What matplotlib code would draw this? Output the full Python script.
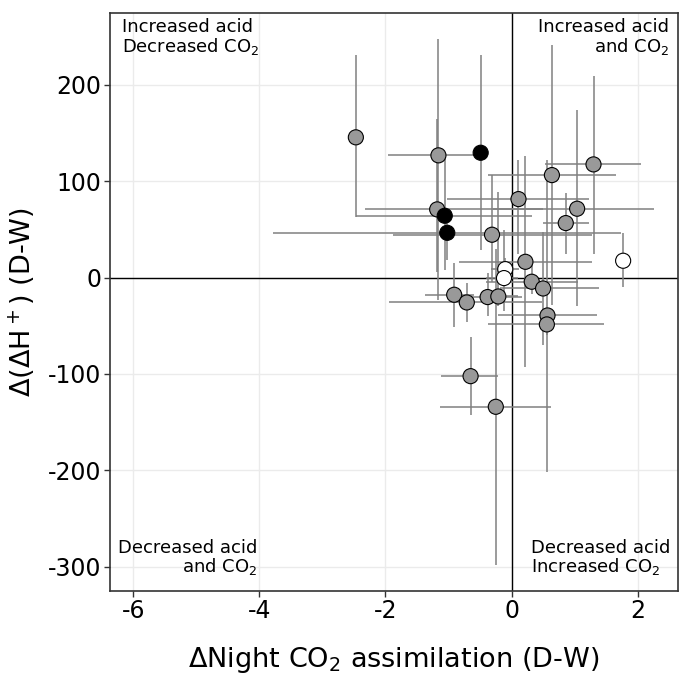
import numpy as np
import matplotlib
matplotlib.use('Agg')
import matplotlib.pyplot as plt

plt.rcParams['font.family'] = ['DejaVu Sans']
plt.rcParams['mathtext.default'] = 'regular'
plt.rcParams['axes.unicode_minus'] = False

# points: x, y, error bar limits, fill
x = [-2.47, -1.16, -0.49, 1.30, 0.64, 0.11, 1.04, -1.18, -1.06, -1.02, 0.86, -0.31, 0.22,
     1.77, -0.10, -0.12, 0.32, 0.50, -0.91, -0.71, -0.38, -0.21, 0.57, 0.56, -0.65, -0.25]
y = [145.6, 126.9, 129.6, 117.5, 106.4, 81.5, 71.5, 70.8, 64.2, 46.5, 56.6, 44.5, 16.4,
     17.5, 8.8, -0.5, -4.3, -11.3, -17.8, -25.8, -20.2, -19.6, -39.3, -48.6, -102.3, -134.1]
xlo = [-2.55, -1.96, -0.49, 0.53, -0.38, -1.02, -0.30, -2.33, -2.46, -3.78, 0.50, -1.88, -0.84,
       1.77, -0.33, -0.40, -0.41, -0.19, -1.38, -1.95, -0.95, -0.50, -0.21, -0.38, -1.12, -1.14]
xhi = [-2.40, -0.55, -0.49, 2.05, 1.66, 1.23, 2.26, 0.50, 0.32, 1.73, 1.23, 1.27, 1.28,
       1.77, 0.12, 0.10, 1.06, 1.39, -0.60, 0.49, 0.17, 0.10, 1.35, 1.47, -0.21, 0.62]
ylo = [62.5, -23.0, 28.5, 25.0, -28.5, 25.0, -29.6, 6.0, 7.8, 18.0, 25.0, -5.0, -93.3,
       -10.2, 0.0, -35.0, -17.0, -70.0, -51.0, -46.5, -40.0, -30.0, -201.6, -60.0, -142.8, -298.5]
yhi = [231.0, 247.7, 230.7, 209.6, 241.8, 122.0, 173.6, 164.6, 127.0, 70.0, 88.0, 106.4, 126.0,
       45.9, 20.0, 49.0, 13.0, 47.6, 15.4, -6.0, 5.0, 89.0, 122.0, -35.0, -62.0, 30.0]
group = ['g', 'g', 'b', 'g', 'g', 'g', 'g', 'g', 'b', 'b', 'g', 'g', 'g',
         'w', 'w', 'w', 'g', 'g', 'g', 'g', 'g', 'g', 'g', 'g', 'g', 'g']
fills = {'g': '#999999', 'b': 'black', 'w': 'white'}

x = np.array(x)
y = np.array(y)
xerr = [x - np.array(xlo), np.array(xhi) - x]
yerr = [y - np.array(ylo), np.array(yhi) - y]

fig = plt.figure(figsize=(6.79, 6.81), dpi=100)
ax = fig.add_axes([0.162, 0.1326, 0.8365, 0.8488])

ax.set_xlim(-6.37, 2.64)
ax.set_ylim(-325, 275)
ax.set_xticks([-6, -4, -2, 0, 2])
ax.set_yticks([-300, -200, -100, 0, 100, 200])
ax.grid(True, color='#ebebeb', lw=1.0)
ax.set_axisbelow(True)

ax.axhline(0, color='black', lw=1.0, zorder=1.5)
ax.axvline(0, color='black', lw=1.0, zorder=1.5)

ax.errorbar(x, y, xerr=xerr, yerr=yerr, fmt='none', ecolor='#808080', elinewidth=1.1,
            capsize=0, zorder=2)
ax.scatter(x, y, s=118, c=[fills[g] for g in group], edgecolors='black', linewidths=0.8,
           zorder=3)

for s in ax.spines.values():
    s.set_color('#333333')
    s.set_linewidth(1.2)
ax.tick_params(colors='#333333', labelcolor='black', labelsize=17, length=4, width=1.0,
               pad=2)

fs = 13
ax.text(-6.18, 269, 'Increased acid\nDecreased CO$_2$', ha='left', va='top', fontsize=fs,
        linespacing=0.95)
ax.text(2.50, 269, 'Increased acid\nand CO$_2$', ha='right', va='top', fontsize=fs,
        multialignment='right', linespacing=0.95)
ax.text(-4.04, -311, 'Decreased acid\nand CO$_2$', ha='right', va='bottom', fontsize=fs,
        multialignment='right', linespacing=0.95)
ax.text(0.31, -311, 'Decreased acid\nIncreased CO$_2$', ha='left', va='bottom', fontsize=fs,
        linespacing=0.95)

ax.set_xlabel('ΔNight CO$_2$ assimilation (D-W)', fontsize=19.5, labelpad=16)
ax.set_ylabel('Δ(ΔH$^+$) (D-W)', fontsize=19.5, labelpad=8)

fig.savefig('out.png', dpi=100)
